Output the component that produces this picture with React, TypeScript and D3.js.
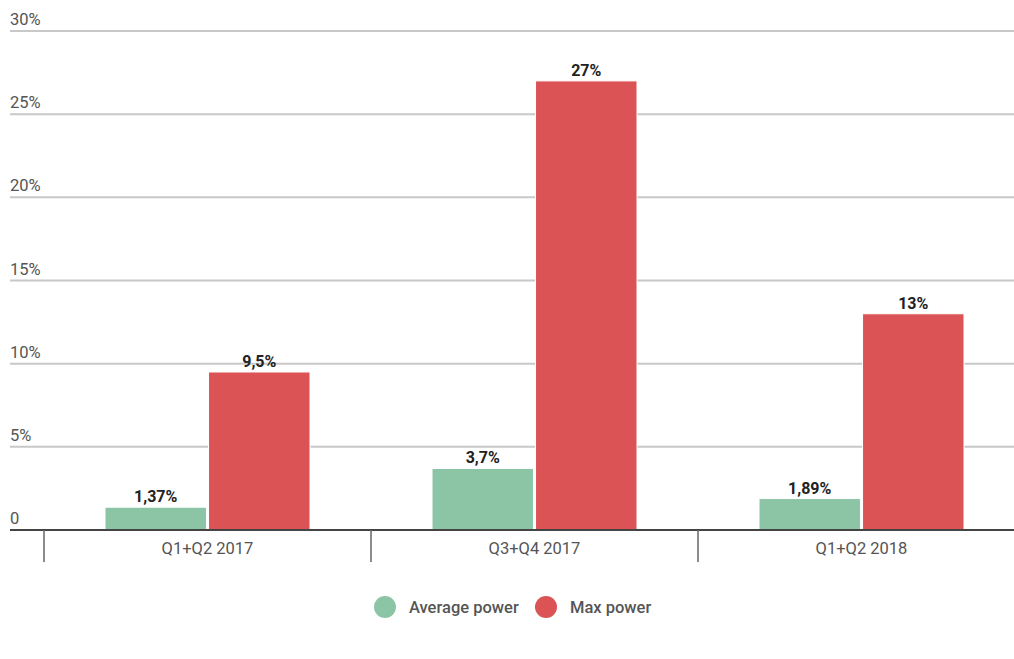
import React from "react";
import * as d3 from "d3";

const categories = ["Q1+Q2 2017", "Q3+Q4 2017", "Q1+Q2 2018"];
const seriesNames = ["Average power", "Max power"];
const averagePower = [1.37, 3.7, 1.89];
const maxPower = [9.5, 27, 13];
const averageLabels = ["1,37%", "3,7%", "1,89%"];
const maxLabels = ["9,5%", "27%", "13%"];
const yTicks = [0, 5, 10, 15, 20, 25, 30];
const colors = ["#8cc4a6", "#db5355"];

const W = 1014;
const H = 659;
const FONT = "Roboto, 'Noto Sans', sans-serif";

export default function App() {
  const y = d3.scaleLinear().domain([0, 30]).range([530, 31]);
  const x0 = d3.scaleBand<string>().domain(categories).range([44, 44 + 327 * 3]);
  const innerPad = 61;
  const x1 = d3
    .scaleBand<string>()
    .domain(seriesNames)
    .range([innerPad, x0.bandwidth() - innerPad])
    .paddingInner(0.02);

  const series = [
    { name: seriesNames[0], values: averagePower, labels: averageLabels, color: colors[0] },
    { name: seriesNames[1], values: maxPower, labels: maxLabels, color: colors[1] },
  ];

  const legend = [
    { name: seriesNames[0], color: colors[0], cx: 385 },
    { name: seriesNames[1], color: colors[1], cx: 546 },
  ];

  return (
    <svg
      width={W}
      height={H}
      style={{ position: "absolute", left: 0, top: 0, background: "#fff" }}
      fontFamily={FONT}
    >
      {/* horizontal gridlines with labels above */}
      {yTicks.map((t) => (
        <g key={t}>
          {t > 0 && (
            <line x1={10} x2={W} y1={y(t)} y2={y(t)} stroke="#c8c8c8" strokeWidth={2} />
          )}
          <text x={10} y={y(t) - 6} fontSize={16.5} fill="#555">
            {t === 0 ? "0" : `${t}%`}
          </text>
        </g>
      ))}

      {/* bars */}
      {categories.map((c, i) => (
        <g key={c} transform={`translate(${x0(c)},0)`}>
          {series.map((s) => {
            const bx = x1(s.name)!;
            const bw = x1.bandwidth();
            const top = y(s.values[i]);
            return (
              <g key={s.name}>
                <rect
                  x={bx}
                  y={top}
                  width={bw}
                  height={y(0) - top}
                  fill={s.color}
                  stroke="#fff"
                  strokeWidth={1}
                />
                <text
                  x={bx + bw / 2}
                  y={top - 5}
                  textAnchor="middle"
                  fontSize={16}
                  fontWeight={700}
                  fill="#222"
                >
                  {s.labels[i]}
                </text>
              </g>
            );
          })}
        </g>
      ))}

      {/* category axis */}
      <line x1={10} x2={W} y1={y(0)} y2={y(0)} stroke="#444" strokeWidth={2} />
      {categories.map((c) => (
        <g key={c}>
          <line x1={x0(c)!} x2={x0(c)!} y1={y(0)} y2={562} stroke="#666" strokeWidth={1.5} />
          <text
            x={x0(c)! + x0.bandwidth() / 2}
            y={554}
            textAnchor="middle"
            fontSize={16.5}
            fill="#555"
          >
            {c}
          </text>
        </g>
      ))}

      {/* legend */}
      {legend.map((l) => (
        <g key={l.name}>
          <circle cx={l.cx} cy={607} r={11} fill={l.color} />
          <text x={l.cx + 24} y={613} fontSize={16.5} fontWeight={500} fill="#555">
            {l.name}
          </text>
        </g>
      ))}
    </svg>
  );
}
